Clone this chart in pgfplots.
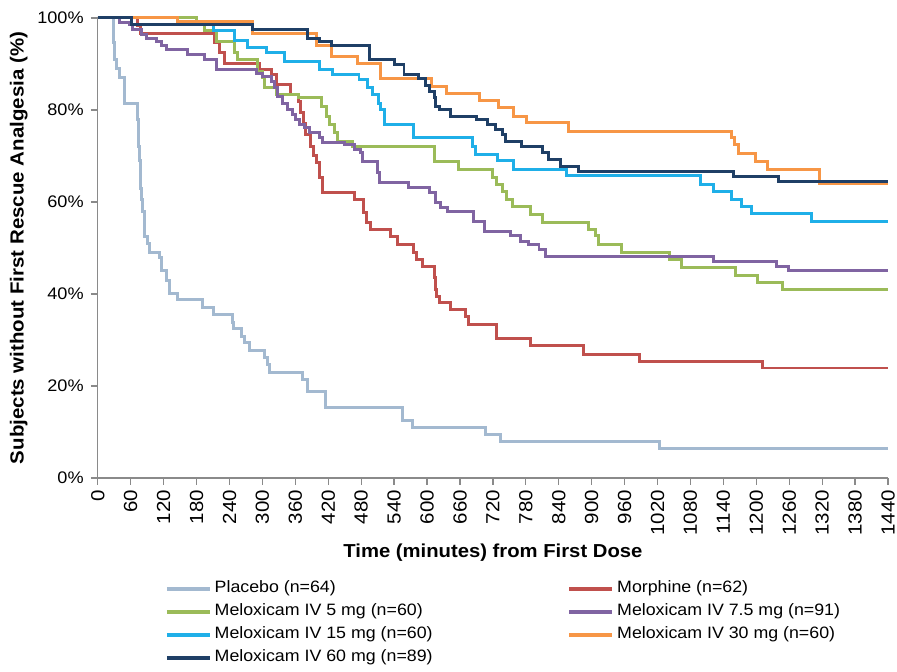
\documentclass[border=0pt]{standalone}
\usepackage{fontspec}
\setmainfont[FakeStretch=1.08]{Liberation Sans}
\usepackage{pgfplots}
\pgfplotsset{compat=1.18}
\definecolor{cplacebo}{HTML}{A3B9D0}
\definecolor{cmorph}{HTML}{C0504D}
\definecolor{cfive}{HTML}{9BBB59}
\definecolor{cseven}{HTML}{8064A2}
\definecolor{cfifteen}{HTML}{1FAFE8}
\definecolor{cthirty}{HTML}{F79646}
\definecolor{csixty}{HTML}{1F3F66}
\definecolor{axisgray}{HTML}{8A8A8A}

\begin{document}
\begin{tikzpicture}
\useasboundingbox (-98bp,-194bp) rectangle (801bp,479bp);
\begin{axis}[
  at={(0,0)},anchor=south west,
  width=792bp,height=461bp,scale only axis,
  xmin=0,xmax=1440,ymin=0,ymax=100,
  clip=false,
  axis x line*=bottom,axis y line*=left,
  axis line style={draw=axisgray,line width=1.3bp,-},
  tick style={draw=axisgray,line width=1.3bp},
  tick align=outside,major tick length=7bp,
  xtick={0,60,...,1440},ytick={0,20,...,100},
  yticklabels={0\%,20\%,40\%,60\%,80\%,100\%},
  /pgf/number format/assume math mode=true,
  /pgf/number format/1000 sep={},
  xticklabel shift=5bp,yticklabel shift=7bp,
  xticklabel style={rotate=90,anchor=east,inner sep=0pt,
    font=\fontsize{19bp}{22bp}\selectfont},
  yticklabel style={anchor=east,inner sep=0pt,
    font=\fontsize{16.8bp}{19bp}\selectfont},
  xlabel={Time (minutes) from First Dose},
  xlabel style={at={(axis description cs:0.5,-0.1432)},anchor=north,inner sep=0pt,
    font=\bfseries\fontsize{18.8bp}{22bp}\selectfont},
  ylabel={Subjects without First Rescue Analgesia (\%)},
  ylabel style={at={(axis description cs:-0.0884,0.5)},anchor=south,inner sep=0pt,
    font=\bfseries\fontsize{19bp}{22bp}\selectfont},
  every axis plot/.append style={const plot,line width=3bp},
  legend columns=2,
  legend cell align=left,
  legend style={at={(axis description cs:0.0846,-0.2234)},anchor=north west,
    draw=none,fill=none,inner sep=0pt,row sep=7bp,
    font=\fontsize{16.5bp}{19bp}\selectfont,
    nodes={inner sep=0pt,text height=12bp,text depth=4bp},
    /tikz/every odd column/.append style={column sep=3bp},
    /tikz/every even column/.append style={column sep=135bp}},
  legend image code/.code={\draw[#1,line width=4bp] (0bp,0bp) -- (43bp,0bp);},
]
% Placebo
\addplot[cplacebo] coordinates {(0,100) (28,94.6) (31,91) (34,89) (40,87) (49,81.5) (73,78) (74,75) (75,72) (76,69) (77,66) (78,63) (79,60.5) (82,58) (85,52.5) (91,51) (95,49) (113,48) (116,45) (125,43) (130,41.4) (131,40) (146,38.8) (191,37) (211,35.6) (245,33.8) (247,32.5) (261,30.8) (267,29.5) (276,27.6) (304,26.2) (310,24.7) (313,23) (373,21.5) (382,18.7) (415,15.4) (556,12.4) (573,11) (707,9.5) (733,8) (1024,6.5) (1440,6.5)};
\addlegendentry{Placebo (n=64)}
% Morphine
\addplot[cmorph] coordinates {(0,100) (72,98.4) (77,96.7) (213,94.6) (222,92.4) (231,90.2) (294,88.7) (316,87.6) (325,85.5) (352,83.3) (366,81.8) (370,79.4) (375,77) (379,74.6) (388,72) (393,70) (398,68.5) (404,65.3) (410,62) (467,60.5) (485,57.7) (490,55.5) (497,54) (534,52.5) (546,50.8) (576,49) (581,47.5) (592,46) (613,43.5) (615,41) (617,39.5) (622,38.2) (643,36.7) (670,35) (676,33.4) (726,30.4) (788,28.7) (885,26.9) (988,25.4) (1211,23.9) (1440,23.9)};
\addlegendentry{Morphine (n=62)}
% Meloxicam 5 mg
\addplot[cfive] coordinates {(0,100) (179,98.6) (195,97.2) (216,94.9) (249,92.4) (255,90.9) (291,88.4) (301,87) (304,84.8) (325,83.3) (366,82.6) (407,80.7) (416,78.5) (422,76.8) (431,75) (437,73.1) (464,72.1) (613,68.8) (658,67) (719,65.3) (727,63.8) (737,62.3) (745,60.5) (755,59) (788,57.3) (810,55.6) (895,54) (907,52.6) (913,50.8) (955,49.1) (1041,47.5) (1063,45.7) (1162,44.1) (1202,42.5) (1247,41) (1440,41)};
\addlegendentry{Meloxicam IV 5 mg (n=60)}
% Meloxicam 7.5 mg
\addplot[cseven] coordinates {(0,100) (40,99) (58,98.6) (64,97.4) (79,96.3) (89,95.6) (107,94.9) (116,94.1) (125,93.1) (164,92) (195,90.9) (216,88.7) (289,88) (301,87.2) (316,86.2) (322,84.8) (328,82.9) (337,81.5) (346,80) (355,79) (361,77.9) (367,76.8) (376,76.1) (385,75) (404,74) (410,73) (449,72.5) (467,71.4) (479,70.7) (482,68.8) (510,66.4) (513,64.2) (567,63.1) (604,62) (616,59.9) (625,58.8) (637,58) (685,55.8) (704,53.6) (752,52.6) (770,51.5) (785,50.8) (804,49.7) (816,48.2) (1122,47) (1236,46) (1258,45) (1440,45)};
\addlegendentry{Meloxicam IV 7.5 mg (n=91)}
% Meloxicam 15 mg
\addplot[cfifteen] coordinates {(0,100) (61,98.5) (210,97.2) (249,95.2) (273,93.5) (307,92.4) (340,90.5) (404,88.7) (428,87.8) (476,86.6) (492,84.8) (501,83.3) (512,81.5) (516,80) (522,76.8) (576,74) (682,72) (688,70.3) (728,69) (758,67) (855,65.7) (1098,63.8) (1122,62.3) (1155,60.5) (1173,59) (1192,57.5) (1301,55.8) (1440,55.8)};
\addlegendentry{Meloxicam IV 15 mg (n=60)}
% Meloxicam 30 mg
\addplot[cthirty] coordinates {(0,100) (146,99.2) (282,96.6) (398,94.1) (425,91.6) (473,90.2) (516,86.9) (609,85.1) (636,83.5) (695,82) (731,80.5) (758,78.6) (782,77.2) (858,75.3) (1155,74) (1161,72.5) (1167,70.5) (1198,68.8) (1221,67) (1316,64) (1440,64)};
\addlegendentry{Meloxicam IV 30 mg (n=60)}
% Meloxicam 60 mg
\addplot[csixty] coordinates {(0,100) (61,98.5) (282,97.4) (382,95.5) (404,94.8) (425,94.1) (495,90.9) (540,89.8) (558,87.6) (585,86.9) (598,85.4) (604,84) (613,82.6) (616,80.8) (622,80) (643,78.6) (691,77.9) (710,76.8) (725,75.7) (737,74.6) (743,73.2) (773,72.1) (810,70.7) (822,69.2) (843,67.7) (876,66.6) (1158,65.5) (1240,64.4) (1440,64.4)};
\addlegendentry{Meloxicam IV 60 mg (n=89)}
\end{axis}
\end{tikzpicture}
\end{document}
